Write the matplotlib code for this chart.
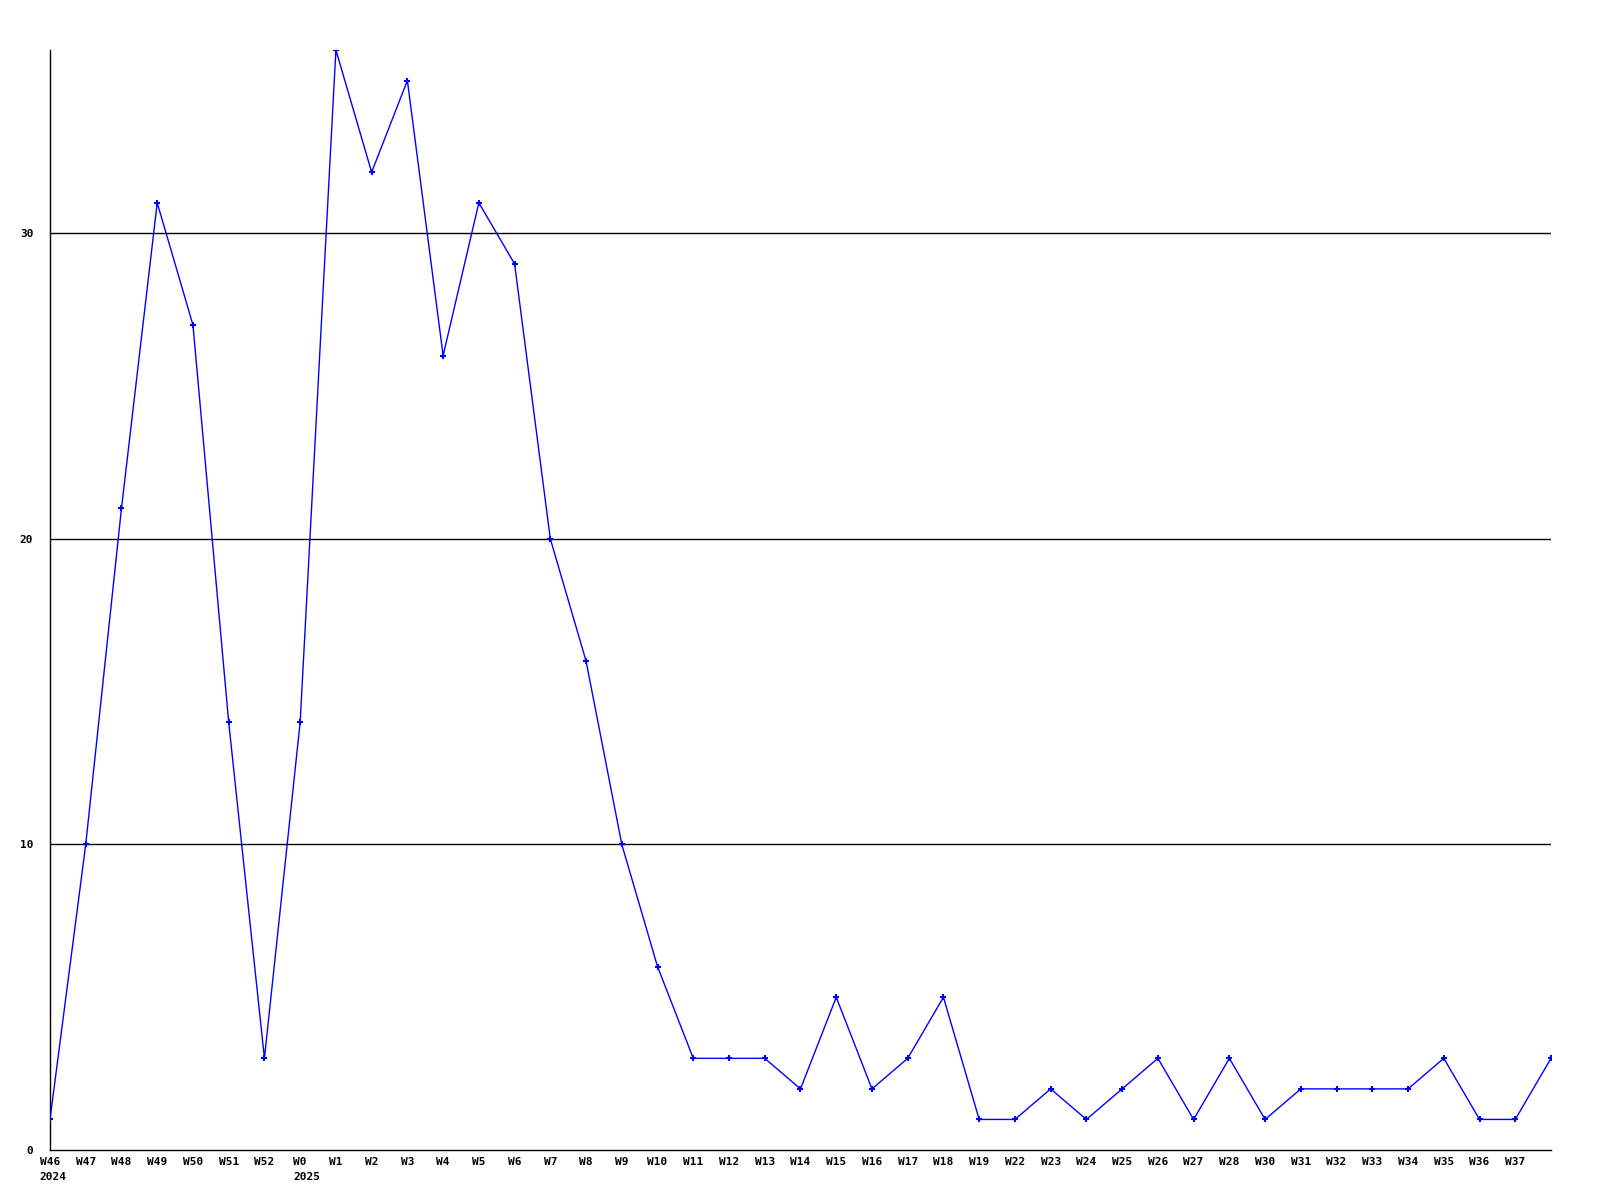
import matplotlib
matplotlib.use("Agg")
import matplotlib.pyplot as plt

# weekly counts, W46/2024 .. W37/2025 plus one trailing unlabeled point
weeks = ["W46", "W47", "W48", "W49", "W50", "W51", "W52", "W0", "W1", "W2",
         "W3", "W4", "W5", "W6", "W7", "W8", "W9", "W10", "W11", "W12",
         "W13", "W14", "W15", "W16", "W17", "W18", "W19", "W22", "W23", "W24",
         "W25", "W26", "W27", "W28", "W30", "W31", "W32", "W33", "W34", "W35",
         "W36", "W37", ""]
counts = [1, 10, 21, 31, 27, 14, 3, 14, 36, 32,
          35, 26, 31, 29, 20, 16, 10, 6, 3, 3,
          3, 2, 5, 2, 3, 5, 1, 1, 2, 1,
          2, 3, 1, 3, 1, 2, 2, 2, 2, 3,
          1, 1, 3]
years = {"W46": "2024", "W0": "2025"}
yticks = [0, 10, 20, 30]

FONT = dict(family="DejaVu Sans Mono", weight="bold", size=8)

fig = plt.figure(figsize=(16, 12), dpi=100)
ax = fig.add_axes([50 / 1600, 50 / 1200, 1501 / 1600, 1100 / 1200])

x = list(range(len(counts)))
for y in yticks[1:]:
    ax.axhline(y, color="black", lw=1, zorder=1)
ax.plot(x, counts, color="#0000ff", lw=1, marker="+", ms=4, mew=1.5, zorder=3)

ax.set_xlim(0, len(counts) - 1)
ax.set_ylim(0, 36)
ax.set_xticks(x)
ax.set_xticklabels(weeks, **FONT)
ax.set_yticks(yticks)
ax.set_yticklabels([str(v) for v in yticks], **FONT)
ax.tick_params(axis="both", length=0)
ax.tick_params(axis="x", pad=5)
ax.tick_params(axis="y", pad=12)

for i, w in enumerate(weeks):
    if w in years:
        ax.annotate(years[w], xy=(i, 0), xycoords="data",
                    xytext=(-len(w) * 3.5 * 0.72, -16), textcoords="offset points",
                    ha="left", va="top", **FONT)

for side in ("top", "right"):
    ax.spines[side].set_visible(False)
for side in ("left", "bottom"):
    ax.spines[side].set_color("black")
    ax.spines[side].set_linewidth(1)

fig.savefig("out.png", dpi=100, facecolor="white")
